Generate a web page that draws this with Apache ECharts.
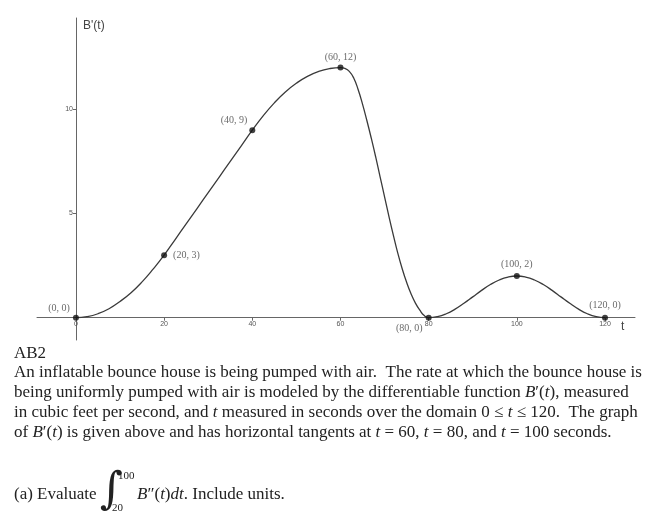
<!DOCTYPE html>
<html><head><meta charset="utf-8">
<script src="https://cdn.jsdelivr.net/npm/echarts@6/dist/echarts.min.js"></script>
<style>html,body{margin:0;padding:0;background:#fff}#c{width:658px;height:527px}</style>
</head><body><div id="c"></div>
<script>
// curve readings of B'(t)
const curveT = [0,2.5,5,7.5,10,12.5,15,17.5,20,22.5,25,27.5,30,32.5,35,37.5,40,42.5,45,47.5,50,52.5,55,57.5,60,61,62,63,64,65,66,67,68,69,70,71,72,73,74,75,76,77,78,79,80,82,84,86,88,90,92,94,96,98,100,102,104,106,108,110,112,114,116,118,120];
const curveB = [0,0.05,0.19,0.43,0.78,1.2,1.72,2.33,3,3.75,4.5,5.25,6,6.75,7.5,8.25,9,9.7,10.31,10.83,11.25,11.58,11.81,11.95,12,11.96,11.82,11.5,10.95,10.25,9.45,8.6,7.7,6.75,5.8,4.85,3.95,3.1,2.35,1.7,1.15,0.7,0.36,0.1,0,0.05,0.19,0.41,0.69,1.0,1.31,1.59,1.81,1.95,2,1.95,1.81,1.59,1.31,1.0,0.69,0.41,0.19,0.05,0];
// labelled points
const keyT = [0,20,40,60,80,100,120];
const keyB = [0,3,9,12,0,2,0];
const xTicks = [0,20,40,60,80,100,120];
const yTicks = [5,10];

const labelStyle = [
  {position:'left', distance:3, offset:[0,-9]},
  {position:'right', distance:6, offset:[0,0]},
  {position:'left', distance:2, offset:[0,-10]},
  {position:'top', distance:2, offset:[0,0]},
  {position:'left', distance:3, offset:[0,11]},
  {position:'top', distance:4, offset:[0,0]},
  {position:'top', distance:4, offset:[0,0]}
];

const chart = echarts.init(document.getElementById('c'), null, {renderer:'canvas'});
const serif = '"Liberation Serif", "DejaVu Serif", serif';
const FS = 17;
const rich = {i:{fontStyle:'italic', fontFamily:serif, fontSize:FS, fill:'#222', color:'#222'}};
function line(txt, y) {
  return {type:'text', left:14, top:y, style:{text:txt, font:FS + 'px ' + serif, fill:'#222', rich:rich}};
}
chart.setOption({
  animation:false,
  backgroundColor:'#fff',
  grid:{left:37, right:23, top:18, bottom:187, containLabel:false, outerBoundsMode:'none'},
  xAxis:{type:'value', min:-8.83, max:126.8, offset:-22.3,
    axisLine:{onZero:false, lineStyle:{color:'#666', width:1}},
    axisTick:{show:true, length:3, customValues:xTicks, lineStyle:{color:'#666'}},
    axisLabel:{customValues:xTicks, fontSize:7, color:'#555', margin:3, fontFamily:'"Liberation Sans", sans-serif'},
    splitLine:{show:false}},
  yAxis:{type:'value', min:-1.07, max:14.38, offset:-39,
    axisLine:{show:true, onZero:false, lineStyle:{color:'#666', width:1}},
    axisTick:{show:true, length:3, customValues:yTicks, lineStyle:{color:'#666'}},
    axisLabel:{customValues:yTicks, fontSize:7, color:'#555', margin:3, fontFamily:'"Liberation Sans", sans-serif'},
    splitLine:{show:false}},
  series:[
    {type:'line', data:curveT.map((t,i)=>[t,curveB[i]]), showSymbol:false, smooth:0.5,
     lineStyle:{color:'#3a3a3a', width:1.3}, z:2},
    {type:'scatter', data:keyT.map((t,i)=>({value:[t,keyB[i]], label:labelStyle[i]})),
     symbolSize:6, itemStyle:{color:'#111'}, z:3,
     label:{show:true, formatter:p=>'(' + p.value[0] + ', ' + p.value[1] + ')',
       fontFamily:serif, fontSize:10, color:'#444'}}
  ],
  graphic:[
    {type:'text', left:83, top:20, style:{text:"B'(t)", font:'12px "Liberation Sans", sans-serif', fill:'#444'}},
    {type:'text', left:621, top:321, style:{text:"t", font:'12px "Liberation Sans", sans-serif', fill:'#444'}},
    line('AB2', 345),
    line('An inflatable bounce house is being pumped with air.  The rate at which the bounce house is', 364),
    line('being uniformly pumped with air is modeled by the differentiable function {i|B}′({i|t}), measured', 384),
    line('in cubic feet per second, and {i|t} measured in seconds over the domain 0 ≤ {i|t} ≤ 120.  The graph', 404),
    line('of {i|B}′({i|t}) is given above and has horizontal tangents at {i|t} = 60, {i|t} = 80, and {i|t} = 100 seconds.', 424),
    line('(a) Evaluate', 486),
    {type:'text', left:100, top:470, style:{text:'∫', font:'italic 44px "DejaVu Serif", serif', fill:'#222'}},
    {type:'text', left:118, top:471, style:{text:'100', font:'11px ' + serif, fill:'#222'}},
    {type:'text', left:112, top:503, style:{text:'20', font:'11px ' + serif, fill:'#222'}},
    {type:'text', left:137, top:486, style:{text:'{i|B}″({i|t}){i|dt}. Include units.', font:FS + 'px ' + serif, fill:'#222', rich:rich}}
  ]
});
</script></body></html>
